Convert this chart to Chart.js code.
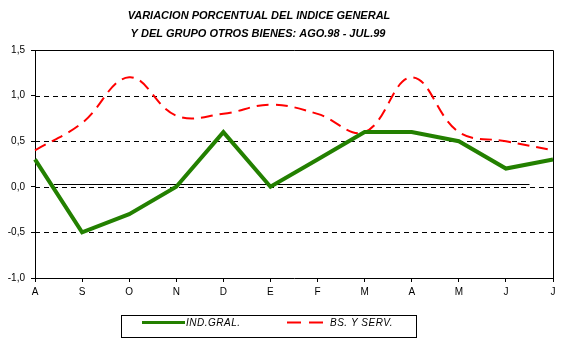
<!DOCTYPE html>
<html>
<head>
<meta charset="utf-8">
<script src="https://cdn.jsdelivr.net/npm/chart.js@4/dist/chart.umd.min.js"></script>
<style>
  html, body { margin: 0; padding: 0; background: #fff; }
  #wrap { width: 564px; height: 342px; }
</style>
</head>
<body>
<div id="wrap"><canvas id="chart" width="564" height="342"></canvas></div>
<script>
// ===== DATA =====
const months = ['A', 'S', 'O', 'N', 'D', 'E', 'F', 'M', 'A', 'M', 'J', 'J'];
const indGral = [0.3, -0.5, -0.3, 0.0, 0.6, 0.0, 0.3, 0.6, 0.6, 0.5, 0.2, 0.3];
const bsServ = [0.4, 0.7, 1.2, 0.78, 0.8, 0.9, 0.8, 0.6, 1.2, 0.6, 0.5, 0.4];
const yTicks = [-1.0, -0.5, 0.0, 0.5, 1.0, 1.5];
const gridValues = [-0.5, 0.0, 0.5, 1.0];
const titleLines = ['VARIACION PORCENTUAL DEL INDICE GENERAL', 'Y DEL GRUPO OTROS BIENES: AGO.98 - JUL.99'];
const legendLabels = ['IND.GRAL.', 'BS. Y SERV.'];
// thin solid line just above zero (from ~index 0.4 to 10.5)
const zeroLine = { from: 0.4, to: 10.5, value: 0.03 };

const FONT = 'Liberation Sans, Arial, sans-serif';

// ===== DECORATION PLUGIN =====
const decorPlugin = {
    id: 'decor',
    beforeDatasetsDraw(chart) {
        const { ctx, chartArea: a, scales: { x, y } } = chart;
        ctx.save();
        // dashed gridlines
        ctx.strokeStyle = '#000';
        ctx.lineWidth = 1;
        ctx.setLineDash([5, 4]);
        gridValues.forEach(v => {
            const py = Math.round(y.getPixelForValue(v)) + 0.5;
            ctx.beginPath();
            ctx.moveTo(a.left, py);
            ctx.lineTo(a.right, py);
            ctx.stroke();
        });
        ctx.setLineDash([]);
        // solid line near zero
        const zy = Math.round(y.getPixelForValue(zeroLine.value)) + 0.5;
        ctx.beginPath();
        ctx.moveTo(x.getPixelForValue(zeroLine.from), zy);
        ctx.lineTo(x.getPixelForValue(zeroLine.to), zy);
        ctx.stroke();
        // top and right border
        ctx.beginPath();
        ctx.moveTo(Math.round(a.left), Math.round(a.top) + 0.5);
        ctx.lineTo(Math.round(a.right) + 0.5, Math.round(a.top) + 0.5);
        ctx.lineTo(Math.round(a.right) + 0.5, Math.round(a.bottom));
        ctx.stroke();
        ctx.restore();
    },
    afterDraw(chart) {
        const { ctx } = chart;
        ctx.save();
        // title
        ctx.fillStyle = '#000';
        ctx.font = 'italic bold 11px ' + FONT;
        ctx.textAlign = 'center';
        ctx.textBaseline = 'middle';
        ctx.fillText(titleLines[0], 259, 16);
        ctx.fillText(titleLines[1], 258, 34);

        // legend box
        ctx.strokeStyle = '#000';
        ctx.lineWidth = 1;
        ctx.strokeRect(121.5, 315.5, 295, 22);
        const ly = 322.5;
        const ds = chart.data.datasets;
        // green sample
        ctx.strokeStyle = ds[0].borderColor;
        ctx.lineWidth = 3;
        ctx.beginPath();
        ctx.moveTo(142, ly);
        ctx.lineTo(185, ly);
        ctx.stroke();
        // red sample
        ctx.strokeStyle = ds[1].borderColor;
        ctx.lineWidth = 2;
        ctx.setLineDash([14, 8]);
        ctx.beginPath();
        ctx.moveTo(287, ly);
        ctx.lineTo(323, ly);
        ctx.stroke();
        ctx.setLineDash([]);
        ctx.font = 'italic 10px ' + FONT;
        ctx.textAlign = 'left';
        ctx.fillStyle = '#000';
        ctx.letterSpacing = '0.5px';
        ctx.fillText(legendLabels[0], 186, ly + 0.5);
        ctx.fillText(legendLabels[1], 330, ly + 0.5);
        ctx.restore();
    }
};

// ===== CHART =====
new Chart(document.getElementById('chart').getContext('2d'), {
    type: 'line',
    data: {
        labels: months,
        datasets: [
            {
                label: legendLabels[0],
                data: indGral,
                borderColor: '#238000',
                borderWidth: 4,
                tension: 0,
                pointRadius: 0,
                fill: false
            },
            {
                label: legendLabels[1],
                data: bsServ,
                borderColor: '#ff0000',
                borderWidth: 2,
                borderDash: [12, 7],
                tension: 0.4,
                pointRadius: 0,
                fill: false
            }
        ]
    },
    options: {
        responsive: false,
        animation: false,
        devicePixelRatio: 1,
        layout: { padding: { left: 0, right: 11, top: 50, bottom: 44 } },
        plugins: {
            legend: { display: false },
            title: { display: false },
            tooltip: { enabled: false }
        },
        scales: {
            x: {
                offset: false,
                grid: { display: true, drawOnChartArea: false, drawTicks: true, tickLength: 4, color: '#000' },
                border: { display: true, color: '#000', width: 1 },
                ticks: { color: '#000', font: { family: FONT, size: 10 }, padding: 4, maxRotation: 0, autoSkip: false },
                afterFit(scale) { scale.height = 20; }
            },
            y: {
                min: -1,
                max: 1.5,
                afterBuildTicks(scale) { scale.ticks = yTicks.map(v => ({ value: v })); },
                grid: { display: true, drawOnChartArea: false, drawTicks: true, tickLength: 4, color: '#000' },
                border: { display: true, color: '#000', width: 1 },
                ticks: {
                    color: '#000',
                    font: { family: FONT, size: 10 },
                    padding: 6,
                    callback: v => v.toFixed(1).replace('.', ',')
                },
                afterFit(scale) { scale.width = 35; }
            }
        }
    },
    plugins: [decorPlugin]
});
</script>
</body>
</html>
